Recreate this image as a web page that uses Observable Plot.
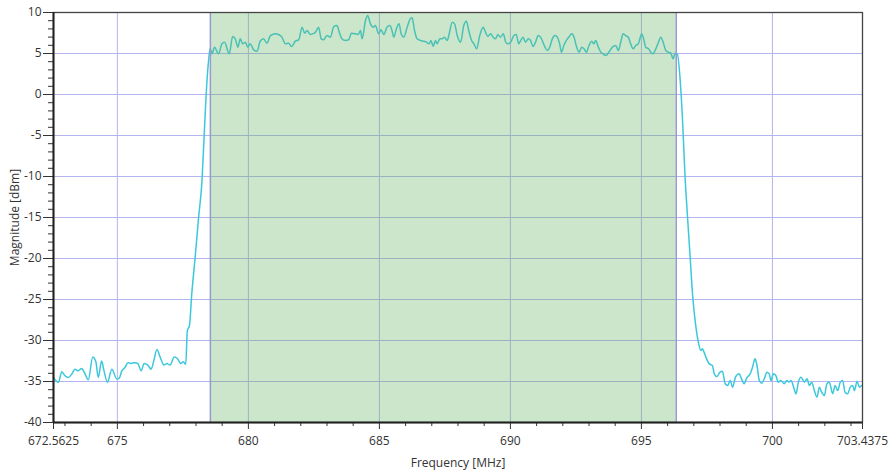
<!DOCTYPE html>
<html>
<head>
<meta charset="utf-8">
<script src="https://cdn.jsdelivr.net/npm/d3@7"></script>
<script src="https://cdn.jsdelivr.net/npm/@observablehq/plot@0.6"></script>
<style>
  html, body { margin: 0; padding: 0; background: #fff; }
  #chart svg { display: block; }
</style>
</head>
<body>
<div id="chart"></div>
<script>
// Frequency (MHz) of each trace sample
const freq = [
  672.56, 672.75, 672.88, 673.00, 673.13, 673.26, 673.38, 673.51, 673.64, 673.77,
  673.89, 674.06, 674.18, 674.27, 674.40, 674.49, 674.62, 674.79, 674.98, 675.07,
  675.17, 675.29, 675.40, 675.52, 675.65, 675.78, 675.91, 676.02, 676.16, 676.29,
  676.38, 676.51, 676.63, 676.78, 676.89, 677.01, 677.17, 677.29, 677.42, 677.52,
  677.61, 677.67, 677.75, 677.84, 677.97, 678.10, 678.23, 678.31, 678.39, 678.48,
  678.54,
  678.61, 678.71, 678.86, 678.99, 679.09, 679.27, 679.40, 679.50, 679.60, 679.69,
  679.78, 679.88, 679.98, 680.07, 680.20, 680.33, 680.45, 680.58, 680.71, 680.84,
  681.03, 681.15, 681.28, 681.41, 681.54, 681.64, 681.73, 681.79, 681.92, 682.05,
  682.15, 682.24, 682.36, 682.45, 682.56, 682.68, 682.78, 682.87, 683.00, 683.13,
  683.26, 683.38, 683.47, 683.57, 683.70, 683.83, 683.93, 684.06, 684.19, 684.28,
  684.34, 684.47,
  684.55, 684.66, 684.76, 684.85, 684.97, 685.06, 685.17, 685.29, 685.40, 685.48,
  685.55, 685.65, 685.75, 685.83, 685.93, 686.06, 686.18, 686.25, 686.34, 686.44,
  686.57, 686.69, 686.80, 686.89, 686.97, 687.05, 687.14, 687.20, 687.31, 687.40,
  687.48, 687.59, 687.65, 687.78, 687.87, 687.97, 688.10, 688.22, 688.32, 688.41,
  688.52, 688.61, 688.71, 688.83, 688.96, 689.05, 689.14, 689.24, 689.34, 689.43,
  689.52, 689.62, 689.73, 689.82, 689.90, 690.01, 690.13, 690.22, 690.32,
  690.39, 690.48, 690.58, 690.68, 690.77, 690.86, 690.96, 691.06, 691.15, 691.24,
  691.32, 691.41, 691.50, 691.60, 691.70, 691.79, 691.88, 691.95, 692.04, 692.13,
  692.23, 692.34, 692.43, 692.51, 692.62, 692.72, 692.81, 692.90, 693.00, 693.10,
  693.19, 693.25, 693.36, 693.45, 693.53, 693.64, 693.76, 693.89, 694.02, 694.12,
  694.21, 694.30, 694.40, 694.50, 694.59, 694.68, 694.78, 694.88, 695.01, 695.10,
  695.16, 695.27, 695.36, 695.44, 695.55, 695.65, 695.74, 695.83, 695.93, 696.03,
  696.12, 696.21, 696.29, 696.37,
  696.48, 696.57, 696.66, 696.76, 696.86, 696.95, 697.08, 697.16, 697.27, 697.33,
  697.39, 697.46, 697.59, 697.71, 697.78, 697.88, 698.00, 698.09, 698.20, 698.29,
  698.39, 698.48, 698.60, 698.73, 698.82, 698.92, 699.02, 699.15, 699.24, 699.34,
  699.41, 699.50, 699.59, 699.69, 699.79, 699.88, 699.94, 700.04, 700.13, 700.22,
  700.32, 700.45, 700.55, 700.63, 700.71, 700.81, 700.90, 700.99, 701.09, 701.22,
  701.32, 701.41, 701.50, 701.60, 701.70, 701.79, 701.88, 701.98, 702.08, 702.17,
  702.30, 702.39, 702.49, 702.59, 702.68, 702.77, 702.87, 702.97, 703.06, 703.13,
  703.23, 703.32, 703.40
];
// Magnitude (dBm) of each trace sample
const mag = [
  -34.5, -35.1, -33.8, -34.3, -34.5, -34.1, -33.5, -33.7, -33.4, -34.1,
  -34.8, -32.0, -32.6, -34.5, -32.5, -33.7, -35.1, -33.5, -34.7, -34.6,
  -33.7, -33.3, -32.7, -32.8, -32.7, -32.8, -33.7, -32.8, -33.0, -33.5,
  -32.6, -31.1, -32.0, -33.0, -32.8, -33.0, -32.0, -32.2, -32.8, -32.6,
  -32.9, -28.8, -28.2, -24.3, -19.8, -15.0, -10.5, -5.2, 0.1, 4.1,
  5.6,
  4.96, 5.77, 4.96, 6.18, 6.38, 4.96, 7.07, 6.79, 5.77, 6.79,
  6.18, 6.38, 5.77, 6.18, 5.45, 5.28, 6.50, 6.79, 6.26, 7.19,
  7.40, 7.32, 6.99, 6.18, 6.26, 5.85, 6.18, 6.50, 6.67, 8.21,
  7.48, 7.81, 7.32, 7.40, 7.60, 8.21, 6.79, 6.67, 7.19, 6.99,
  8.29, 8.41, 7.60, 6.79, 6.58, 6.67, 7.48, 7.40, 7.32, 7.81,
  6.79, 9.02,
  9.63, 8.62, 8.21, 8.41, 7.40, 7.89, 7.32, 8.21, 8.41, 7.81,
  6.99, 8.01, 8.62, 7.40, 6.99, 8.21, 9.23, 9.35, 7.81, 6.79,
  6.58, 6.50, 6.38, 6.18, 6.58, 5.85, 6.58, 6.18, 6.79, 6.79,
  6.99, 6.58, 7.19, 8.82, 8.62, 7.19, 6.38, 8.41, 8.94, 7.81,
  6.58, 6.18, 5.57, 7.19, 8.21, 7.60, 7.07, 7.40, 6.99, 6.79,
  7.32, 6.99, 7.40, 6.38, 6.18, 6.38, 7.19, 7.32, 6.18,
  6.58, 6.99, 6.38, 6.79, 6.58, 5.85, 6.38, 7.19, 6.99, 6.38,
  5.77, 5.37, 5.77, 6.79, 7.19, 6.99, 6.18, 5.16, 5.98, 6.58,
  6.99, 7.40, 6.99, 5.98, 5.16, 5.77, 5.57, 5.16, 5.98, 6.50,
  6.18, 6.58, 5.77, 5.16, 4.96, 4.76, 5.16, 5.77, 5.98, 5.37,
  6.38, 7.40, 7.19, 6.99, 6.18, 5.57, 5.98, 6.18, 7.40, 6.58,
  5.77, 5.57, 5.16, 4.96, 5.57, 6.38, 6.99, 6.38, 5.37, 5.16,
  5.04, 4.35, 5.04, 4.96,
  1.71, -3.17, -9.68, -14.96, -19.84, -24.31, -28.37, -30.0, -31.22, -31.02,
  -31.42, -32.03, -32.85, -33.05, -34.07, -34.39, -33.86, -33.74, -35.28, -35.49,
  -34.88, -35.69, -34.39, -34.07, -34.67, -35.28, -34.55, -34.07, -33.25, -32.24,
  -33.05, -34.88, -35.20, -34.67, -33.86, -34.07, -34.88, -34.07, -34.27, -35.08,
  -34.88, -35.28, -34.88, -35.08, -34.88, -35.69, -36.50, -35.08, -34.47, -35.08,
  -34.67, -35.49, -35.08, -36.10, -36.91, -35.69, -36.30, -36.71, -35.28, -35.08,
  -36.50, -35.49, -36.10, -35.08, -34.88, -36.30, -36.50, -35.69, -35.49, -36.10,
  -34.96, -35.69, -35.49
];

// Highlighted pass band (MHz)
const bandStart = [678.55];
const bandEnd = [696.33];

// Axis ticks
const xDomain = [672.5625, 703.4375];
const yDomain = [-40, 10];
const xMajorTicks = [672.5625, 675, 680, 685, 690, 695, 700, 703.4375];
const xMinorTicks = [673, 674, 676, 677, 678, 679, 681, 682, 683, 684, 686, 687, 688, 689, 691, 692, 693, 694, 696, 697, 698, 699, 701, 702, 703];
const yMajorTicks = [-40, -35, -30, -25, -20, -15, -10, -5, 0, 5, 10];
const yMinorTicks = d3.range(-39, 10).filter(v => v % 5 !== 0);
const xGridLines = [675, 680, 685, 690, 695, 700];
const yGridLines = [-35, -30, -25, -20, -15, -10, -5, 0, 5];

const trace = freq.map((f, i) => ({f, m: mag[i]}));
const band = bandStart.map((s, i) => ({s, e: bandEnd[i]}));

const chart = Plot.plot({
  width: 890,
  height: 473,
  marginTop: 12,
  marginBottom: 51,
  marginLeft: 53,
  marginRight: 28,
  style: {fontFamily: "'Open Sans', 'Noto Sans', sans-serif", fontSize: "12px", color: "#333", background: "#fff"},
  x: {domain: xDomain},
  y: {domain: yDomain},
  marks: [
    Plot.gridX(xGridLines, {stroke: "#b4b4ee", strokeOpacity: 1, strokeWidth: 1}),
    Plot.gridY(yGridLines, {stroke: "#b4b4ee", strokeOpacity: 1, strokeWidth: 1}),
    Plot.line(trace, {x: "f", y: "m", stroke: "#3cc8dc", strokeWidth: 1.5, curve: "monotone-x"}),
    Plot.rect(band, {x1: "s", x2: "e", fill: "rgb(100,178,100)", fillOpacity: 0.33}),
    Plot.ruleX(bandStart, {stroke: "#9a9ad2", strokeWidth: 1.5}),
    Plot.ruleX(bandEnd, {stroke: "#9a9ad2", strokeWidth: 1.5}),
    Plot.frame({stroke: "#444", strokeWidth: 1.3}),
    Plot.axisX(xMinorTicks, {tickSize: 4, tickFormat: () => "", stroke: "#333", label: null}),
    Plot.axisX(xMajorTicks, {tickSize: 7, tickPadding: 7, tickFormat: d => String(d), stroke: "#333", fill: "#333", fontSize: 12,
      label: "Frequency [MHz]", labelAnchor: "center", labelArrow: "none", labelOffset: 44}),
    Plot.axisY(yMinorTicks, {tickSize: 5, tickFormat: () => "", stroke: "#333", label: null}),
    Plot.axisY(yMajorTicks, {tickSize: 10, tickPadding: 2, tickFormat: d => String(d), stroke: "#333", fill: "#333", fontSize: 12,
      label: "Magnitude [dBm]", labelAnchor: "center", labelArrow: "none", labelOffset: 43}),
    Plot.ruleY([yDomain[0]], {stroke: "#222", strokeWidth: 2}),
    Plot.ruleX([xDomain[0]], {stroke: "#222", strokeWidth: 2})
  ]
});
document.getElementById("chart").appendChild(chart);
</script>
</body>
</html>
